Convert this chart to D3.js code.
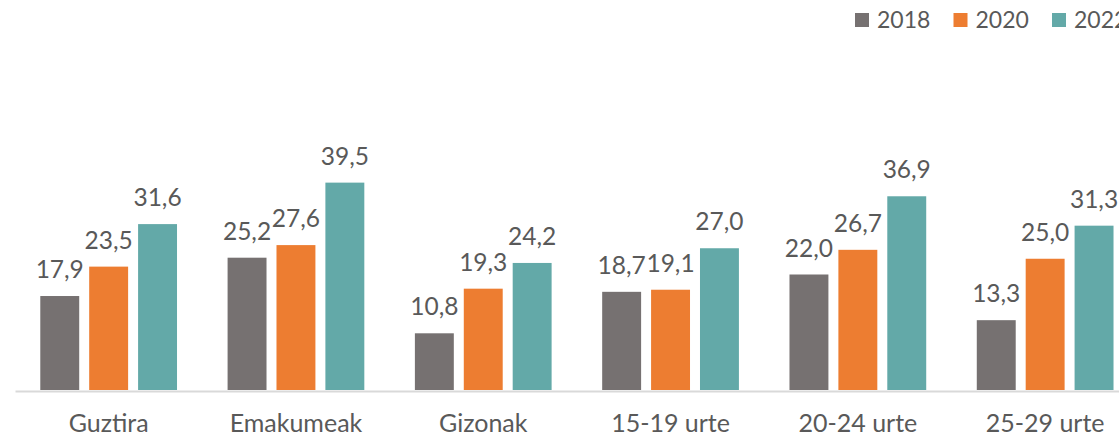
<!DOCTYPE html>
<html>
<head>
<meta charset="utf-8">
<script src="https://cdn.jsdelivr.net/npm/d3@7"></script>
<style>
  body { margin: 0; background: #fff; }
  svg { display: block; font-family: Lato, "Open Sans", sans-serif; }
</style>
</head>
<body>
<svg id="chart" width="1119" height="438"></svg>
<script>
const categories = ["Guztira", "Emakumeak", "Gizonak", "15-19 urte", "20-24 urte", "25-29 urte"];
const years = ["2018", "2020", "2022"];
const values2018 = [17.9, 25.2, 10.8, 18.7, 22.0, 13.3];
const values2020 = [23.5, 27.6, 19.3, 19.1, 26.7, 25.0];
const values2022 = [31.6, 39.5, 24.2, 27.0, 36.9, 31.3];
const colors = ["#767171", "#ED7D31", "#63A9A8"];

const seriesValues = [values2018, values2020, values2022];
const textColor = "#595959";

const svg = d3.select("#chart");
const baseY = 390;

const x0 = d3.scaleBand()
    .domain(categories)
    .range([15, 15 + 6 * 187.3])
    .paddingInner(0.27)
    .paddingOuter(0.135);

const x1 = d3.scaleBand()
    .domain(years)
    .range([0, x0.bandwidth()])
    .paddingInner(0.204);

const y = d3.scaleLinear().domain([0, 40]).range([baseY, baseY - 210]);

const color = d3.scaleOrdinal().domain(years).range(colors);

// 每个柱子的数据
const rows = [];
categories.forEach((c, i) => {
    years.forEach((yr, j) => {
        rows.push({ cat: c, year: yr, value: seriesValues[j][i] });
    });
});

svg.append("g")
    .selectAll("rect")
    .data(rows)
    .join("rect")
    .attr("x", d => x0(d.cat) + x1(d.year))
    .attr("y", d => y(d.value))
    .attr("width", x1.bandwidth())
    .attr("height", d => y(0) - y(d.value))
    .attr("fill", d => color(d.year));

svg.append("g")
    .selectAll("text")
    .data(rows)
    .join("text")
    .attr("x", d => x0(d.cat) + x1(d.year) + x1.bandwidth() / 2)
    .attr("y", d => y(d.value) - 18)
    .attr("text-anchor", "middle")
    .style("font-size", "24.5px")
    .style("fill", textColor)
    .text(d => d.value.toFixed(1).replace(".", ","));

// x 轴
const xAxis = svg.append("g")
    .attr("transform", `translate(0,${baseY + 1})`)
    .call(d3.axisBottom(x0).tickSize(0).tickPadding(0));
xAxis.select(".domain").attr("stroke", "#D9D9D9").attr("stroke-width", 2);
xAxis.selectAll("text")
    .attr("y", 0)
    .attr("dy", 0)
    .attr("transform", "translate(0,41)")
    .style("font-family", "Lato, 'Open Sans', sans-serif")
    .style("font-size", "25px")
    .style("fill", textColor);

// 图例
const legend = svg.append("g")
    .selectAll("g")
    .data(years)
    .join("g")
    .attr("transform", (d, i) => `translate(${855 + i * 98.5},0)`);
legend.append("rect")
    .attr("x", 0)
    .attr("y", 13)
    .attr("width", 14)
    .attr("height", 14)
    .attr("fill", d => color(d));
legend.append("text")
    .attr("x", 22)
    .attr("y", 28)
    .style("font-size", "23px")
    .style("fill", textColor)
    .text(d => d);
</script>
</body>
</html>
